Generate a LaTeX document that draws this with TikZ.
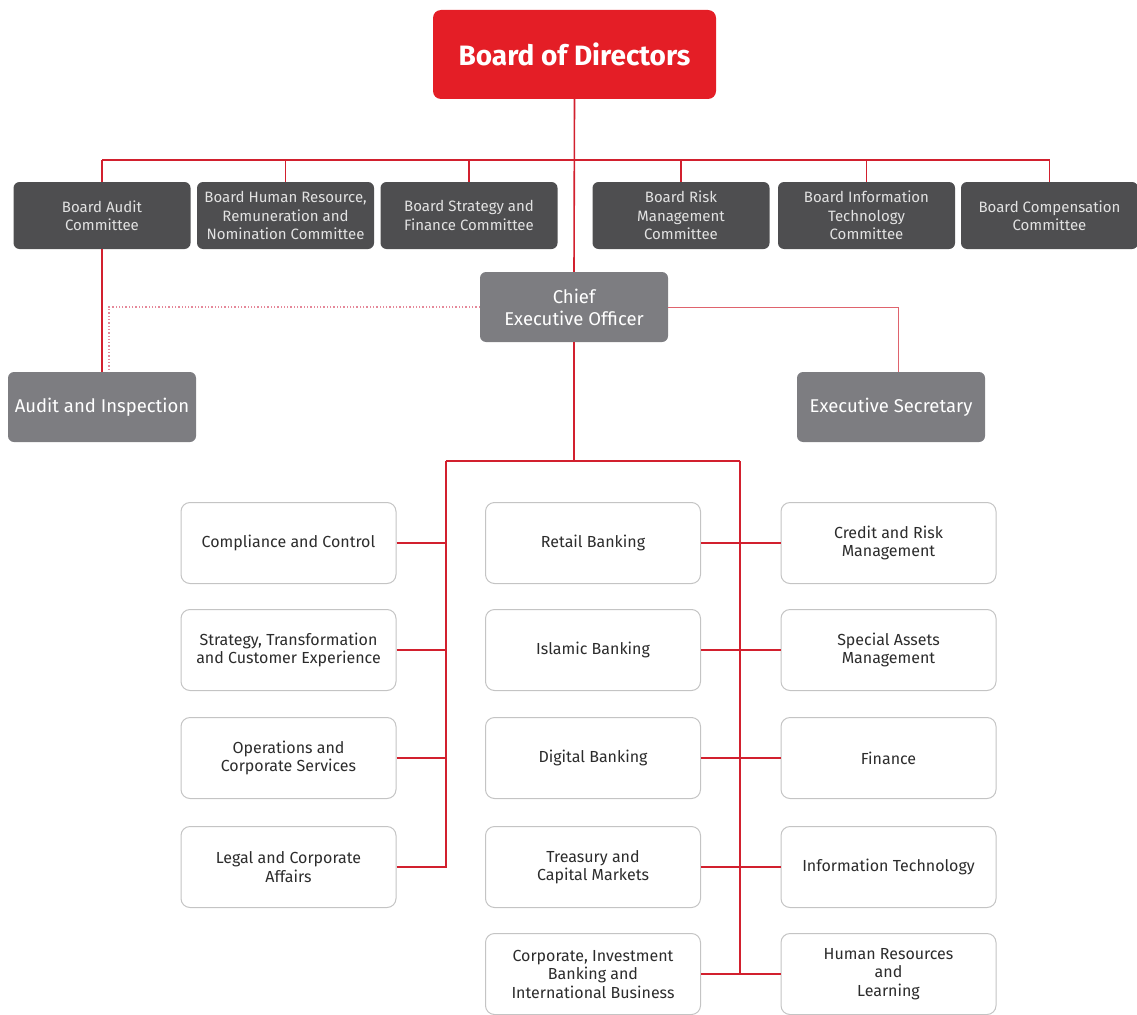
\documentclass[tikz,border=0pt]{standalone}
\usepackage{fontspec}
\setmainfont{Fira Sans}
\usetikzlibrary{positioning}
\definecolor{bodred}{HTML}{E41E26}
\definecolor{linkred}{HTML}{D2202E}
\definecolor{dotpink}{HTML}{E5899A}
\definecolor{cmtegray}{HTML}{4E4E50}
\definecolor{cmtetext}{HTML}{E2E2E2}
\definecolor{execgray}{HTML}{7D7D81}
\definecolor{unitline}{HTML}{C4C4C4}
\definecolor{unittext}{HTML}{2C2C2C}
\begin{document}
\begin{tikzpicture}[x=1pt, y=-1pt, 
board/.style = {fill=bodred, rounded corners=8pt, minimum width=283pt, minimum height=89pt, text=white, font=\bfseries\fontsize{28}{32}\selectfont}, 
cmte/.style = {fill=cmtegray, rounded corners=6pt, minimum width=177pt, minimum height=67pt, inner sep=0pt, align=center, text=cmtetext, font=\fontsize{15}{18.5}\selectfont}, 
exec/.style = {fill=execgray, rounded corners=6pt, minimum width=188pt, minimum height=70pt, inner sep=0pt, align=center, text=white, font=\fontsize{18.5}{22}\selectfont}, 
unit/.style = {draw=unitline, line width=1pt, fill=white, rounded corners=9pt, minimum width=215pt, minimum height=81pt, inner sep=0pt, align=center, text=unittext, font=\fontsize{16}{18.5}\selectfont}, 
link/.style = {draw=linkred, line width=1.6pt}, 
soft/.style = {draw=linkred!70, line width=1pt}, 
dotline/.style = {draw=dotpink, line width=1.3pt, dotted}] 
\useasboundingbox (0,0) rectangle (1137,1014);

\node[board] (bod) at (574.5,54.5) {Board of Directors}; 

\node[cmte] (c1) at (102,215.5) {Board Audit\\Committee}; 
\node[cmte] (c2) at (285.5,215.5) {Board Human Resource,\\Remuneration and\\Nomination Committee}; 
\node[cmte] (c3) at (469,215.5) {Board Strategy and\\Finance Committee}; 
\node[cmte] (c4) at (681,215.5) {Board Risk\\Management\\Committee}; 
\node[cmte] (c5) at (866.5,215.5) {Board Information\\Technology\\Committee}; 
\node[cmte] (c6) at (1049.5,215.5) {Board Compensation\\Committee}; 

\node[exec] (ceo) at (574,307) {Chief\\Executive Officer}; 
\node[exec] (audit) at (102,407) {Audit and Inspection}; 
\node[exec] (sec) at (891,407) {Executive Secretary}; 

\node[unit] (l1) at (288.5,543) {Compliance and Control}; 
\node[unit] (l2) at (288.5,650) {Strategy, Transformation\\and Customer Experience}; 
\node[unit] (l3) at (288.5,758) {Operations and\\Corporate Services}; 
\node[unit] (l4) at (288.5,867) {Legal and Corporate\\Affairs}; 

\node[unit] (m1) at (593,543) {Retail Banking}; 
\node[unit] (m2) at (593,650) {Islamic Banking}; 
\node[unit] (m3) at (593,758) {Digital Banking}; 
\node[unit] (m4) at (593,867) {Treasury and\\Capital Markets}; 
\node[unit] (m5) at (593,974) {Corporate, Investment\\Banking and\\International Business}; 

\node[unit] (r1) at (888.5,543) {Credit and Risk\\Management}; 
\node[unit] (r2) at (888.5,650) {Special Assets\\Management}; 
\node[unit] (r3) at (888.5,758) {Finance}; 
\node[unit] (r4) at (888.5,867) {Information Technology}; 
\node[unit] (r5) at (888.5,974) {Human Resources\\and\\Learning}; 

\coordinate (top) at (575,160); 
\coordinate (lbus) at (446,461); 
\coordinate (rbus) at (740,461); 

% board and committees
\draw[link] (bod.south) -- (ceo.north); 
\draw[link] (c1.north |- top) -- (c6.north |- top); 
\draw[link] (c1.north |- top) -- (c1.north); 
\draw[link] (c2.north |- top) -- (c2.north); 
\draw[link] (c3.north |- top) -- (c3.north); 
\draw[link] (c4.north |- top) -- (c4.north); 
\draw[link] (c5.north |- top) -- (c5.north); 
\draw[link] (c6.north |- top) -- (c6.north); 
\draw[link] (c1.south) -- (c1.south |- audit.north); 

% ceo
\draw[dotline] (ceo.west) -| ([xshift=7pt]audit.north); 
\draw[soft] (ceo.east) -| ([xshift=7pt]sec.north); 
\draw[link] (ceo.south) -- (ceo.south |- lbus); 
\draw[link] (lbus) -- (rbus); 

% divisions
\draw[link] (l4.east) -| (lbus); 
\draw[link] (l1.east) -- (l1.east -| lbus); 
\draw[link] (l2.east) -- (l2.east -| lbus); 
\draw[link] (l3.east) -- (l3.east -| lbus); 
\draw[link] (m5.east) -| (rbus); 
\draw[link] (m1.east) -- (r1.west); 
\draw[link] (m2.east) -- (r2.west); 
\draw[link] (m3.east) -- (r3.west); 
\draw[link] (m4.east) -- (r4.west); 
\draw[link] (m5.east) -- (r5.west); 

\end{tikzpicture}
\end{document}
